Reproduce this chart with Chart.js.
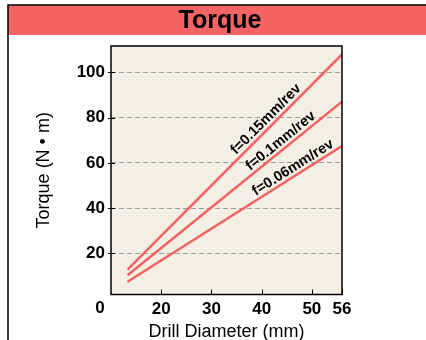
<!DOCTYPE html>
<html>
<head>
<meta charset="utf-8">
<script src="https://cdn.jsdelivr.net/npm/chart.js@4"></script>
<style>
  body { margin: 0; background: #fff; }
  canvas { display: block; }
</style>
</head>
<body>
<canvas id="torqueCanvas" width="426" height="340"></canvas>
<script>
// values
const diameters = [13.3, 56];
const torqueF015 = [12.9, 107.9];
const torqueF010 = [10.4, 87.0];
const torqueF006 = [7.5, 67.4];
const feedLabels = ['f=0.15mm/rev', 'f=0.1mm/rev', 'f=0.06mm/rev'];
const xTicks = [20, 30, 40, 50, 56];
const yTicks = [20, 40, 60, 80, 100];

const lineColor = '#f26262';

function points(ys) {
  return diameters.map(function (d, i) { return { x: d, y: ys[i] }; });
}

// banner, frame, plot background, box, tick marks and line labels
const decorPlugin = {
  id: 'decor',
  beforeDraw: function (chart) {
    const ctx = chart.ctx;
    const a = chart.chartArea;
    ctx.save();
    ctx.fillStyle = '#fff';
    ctx.fillRect(0, 0, chart.width, chart.height);
    // title banner
    ctx.fillStyle = '#f56464';
    ctx.fillRect(8, 5, chart.width - 8, 30);
    ctx.strokeStyle = '#000';
    ctx.lineWidth = 1.5;
    ctx.beginPath();
    ctx.moveTo(8, chart.height);
    ctx.lineTo(8, 5);
    ctx.lineTo(chart.width, 5);
    ctx.stroke();
    ctx.fillStyle = '#000';
    ctx.font = 'bold 25px "Liberation Sans", Arial, sans-serif';
    ctx.textAlign = 'center';
    ctx.textBaseline = 'middle';
    ctx.fillText('Torque', 220, 21);
    // plot background
    ctx.fillStyle = '#f4efe4';
    ctx.fillRect(a.left, a.top, a.right - a.left, a.bottom - a.top);
    ctx.restore();
  },
  afterDraw: function (chart) {
    const ctx = chart.ctx;
    const a = chart.chartArea;
    const xs = chart.scales.x;
    const ys = chart.scales.y;
    ctx.save();
    ctx.strokeStyle = '#000';
    ctx.lineWidth = 1.5;
    ctx.strokeRect(a.left, a.top, a.right - a.left, a.bottom - a.top);
    ctx.lineWidth = 1;
    ctx.beginPath();
    xTicks.forEach(function (v) {
      const px = Math.round(xs.getPixelForValue(v)) + 0.5;
      ctx.moveTo(px, a.bottom);
      ctx.lineTo(px, a.bottom - 5);
    });
    yTicks.forEach(function (v) {
      const py = Math.round(ys.getPixelForValue(v)) + 0.5;
      ctx.moveTo(a.left - 3, py);
      ctx.lineTo(a.left + 4, py);
    });
    ctx.stroke();
    // shared origin label
    ctx.fillStyle = '#000';
    ctx.font = 'bold 17px "Liberation Sans", Arial, sans-serif';
    ctx.textAlign = 'center';
    ctx.textBaseline = 'middle';
    ctx.fillText('0', a.left - 11, 308.5);
    // labels along the lines
    const at = chart.options.plugins.decor.labelAt;
    ctx.font = 'bold 14.5px "Liberation Sans", Arial, sans-serif';
    chart.data.datasets.forEach(function (ds, i) {
      const p0 = ds.data[0], p1 = ds.data[ds.data.length - 1];
      const x0 = xs.getPixelForValue(p0.x), y0 = ys.getPixelForValue(p0.y);
      const x1 = xs.getPixelForValue(p1.x), y1 = ys.getPixelForValue(p1.y);
      const ang = Math.atan2(y1 - y0, x1 - x0);
      const t = (at[i] - p0.x) / (p1.x - p0.x);
      const yv = p0.y + t * (p1.y - p0.y);
      ctx.save();
      ctx.translate(xs.getPixelForValue(at[i]), ys.getPixelForValue(yv));
      ctx.rotate(ang);
      ctx.fillText(feedLabels[i], 0, -8);
      ctx.restore();
    });
    ctx.restore();
  }
};

new Chart(document.getElementById('torqueCanvas'), {
  type: 'line',
  data: {
    datasets: [
      { label: feedLabels[0], data: points(torqueF015) },
      { label: feedLabels[1], data: points(torqueF010) },
      { label: feedLabels[2], data: points(torqueF006) }
    ].map(function (ds) {
      ds.borderColor = lineColor;
      ds.borderWidth = 2.5;
      ds.pointRadius = 0;
      ds.fill = false;
      return ds;
    })
  },
  options: {
    responsive: false,
    animation: false,
    layout: { padding: { left: 0, top: 46, right: 84, bottom: 0 } },
    plugins: {
      legend: { display: false },
      tooltip: { enabled: false },
      decor: { labelAt: [42.0, 44.8, 47.1] }
    },
    scales: {
      x: {
        type: 'linear',
        min: 10,
        max: 56,
        afterBuildTicks: function (s) { s.ticks = xTicks.map(function (v) { return { value: v }; }); },
        afterFit: function (s) { s.height = 45.5; },
        grid: { display: false, drawTicks: false },
        border: { display: false },
        ticks: {
          color: '#000',
          padding: 5,
          maxRotation: 0,
          autoSkip: false,
          font: { family: '"Liberation Sans", Arial, sans-serif', size: 17, weight: 'bold' }
        },
        title: {
          display: true,
          text: 'Drill Diameter (mm)',
          color: '#000',
          padding: { top: 0, bottom: -1.5 },
          font: { family: '"Liberation Sans", Arial, sans-serif', size: 18, lineHeight: 1 }
        }
      },
      y: {
        min: 1.9,
        max: 111.6,
        afterBuildTicks: function (s) { s.ticks = yTicks.map(function (v) { return { value: v }; }); },
        afterFit: function (s) { s.width = 111; },
        grid: { color: '#9a9a9a', lineWidth: 1, drawTicks: false },
        border: { display: false, dash: [5, 3] },
        ticks: {
          color: '#000',
          padding: 6,
          autoSkip: false,
          font: { family: '"Liberation Sans", Arial, sans-serif', size: 17, weight: 'bold' }
        },
        title: {
          display: true,
          text: 'Torque (N \u2022 m)',
          color: '#000',
          padding: { top: 35.5, bottom: 0 },
          font: { family: '"Liberation Sans", Arial, sans-serif', size: 18, lineHeight: 1 }
        }
      }
    }
  },
  plugins: [decorPlugin]
});
</script>
</body>
</html>
